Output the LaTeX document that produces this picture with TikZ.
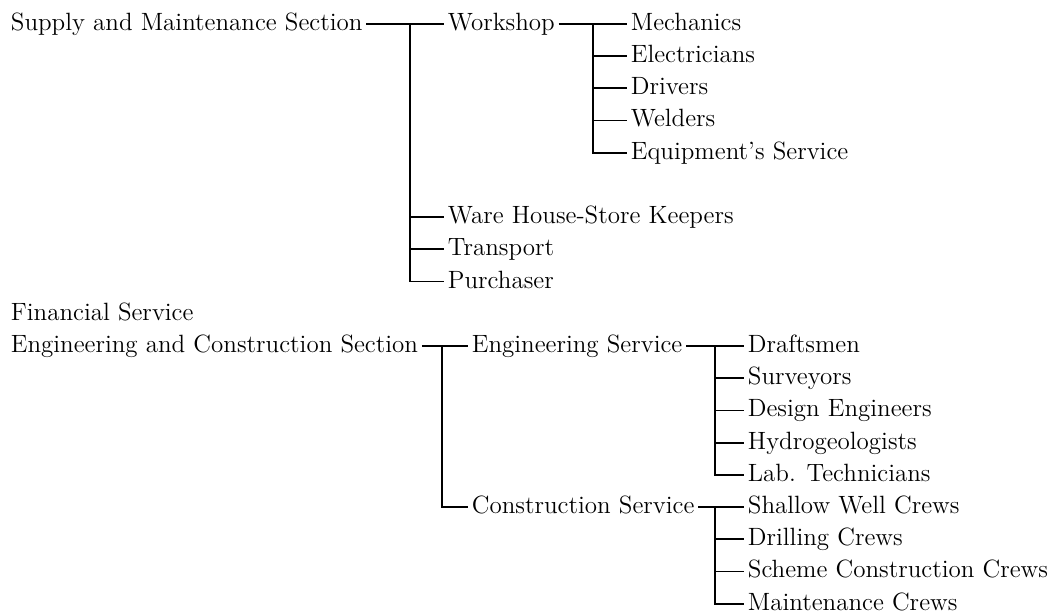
\documentclass[tikz,border=0pt]{standalone}
\usepackage{tikz}
\usetikzlibrary{positioning}

\begin{document}
\begin{tikzpicture}[x=0.5pt,y=-0.5pt,line width=0.9pt,
  unit/.style={anchor=west,inner xsep=1.5pt,inner ysep=0pt,text height=6.4pt,text depth=0pt,font=\fontsize{12.5}{15}\selectfont}]
\useasboundingbox (0,0) rectangle (1063,614);

% supply and maintenance
\node[unit] (supply) at (7,24) {Supply and Maintenance Section};
\node[unit] (workshop) at (444,24) {Workshop};
\node[unit] (mech) at (627,24) {Mechanics};
\node[unit] (elec) at (627,56.2) {Electricians};
\node[unit] (driv) at (627,88.4) {Drivers};
\node[unit] (weld) at (627,120.6) {Welders};
\node[unit] (equip) at (627,152.8) {Equipment's Service};
\node[unit] (ware) at (444,217.2) {Ware House-Store Keepers};
\node[unit] (trans) at (444,249.4) {Transport};
\node[unit] (purch) at (444,281.6) {Purchaser};

\coordinate (jA) at (410,24);
\coordinate (jB) at (593,24);
\draw (supply.east) -- (workshop.west);
\draw (workshop.east) -- (mech.west);
\foreach \c in {ware,trans,purch} \draw (jA) |- (\c.west);
\foreach \c in {elec,driv,weld,equip} \draw (jB) |- (\c.west);

% financial, engineering and construction
\node[unit] (fin) at (7,313.8) {Financial Service};
\node[unit] (engcons) at (7,346) {Engineering and Construction Section};
\node[unit] (engserv) at (468,346) {Engineering Service};
\node[unit] (consserv) at (468,507) {Construction Service};
\node[unit] (draft) at (744,346) {Draftsmen};
\node[unit] (surv) at (744,378.2) {Surveyors};
\node[unit] (design) at (744,410.4) {Design Engineers};
\node[unit] (hydro) at (744,442.6) {Hydrogeologists};
\node[unit] (lab) at (744,474.8) {Lab. Technicians};
\node[unit] (shallow) at (744,507) {Shallow Well Crews};
\node[unit] (drill) at (744,539.2) {Drilling Crews};
\node[unit] (scheme) at (744,571.4) {Scheme Construction Crews};
\node[unit] (maint) at (744,603.6) {Maintenance Crews};

\coordinate (jC) at (442,346);
\coordinate (jD) at (715,346);
\coordinate (jE) at (715,507);
\draw (engcons.east) -- (engserv.west);
\draw (engserv.east) -- (draft.west);
\draw (consserv.east) -- (shallow.west);
\draw (jC) |- (consserv.west);
\foreach \c in {surv,design,hydro,lab} \draw (jD) |- (\c.west);
\foreach \c in {drill,scheme,maint} \draw (jE) |- (\c.west);
\end{tikzpicture}
\end{document}
